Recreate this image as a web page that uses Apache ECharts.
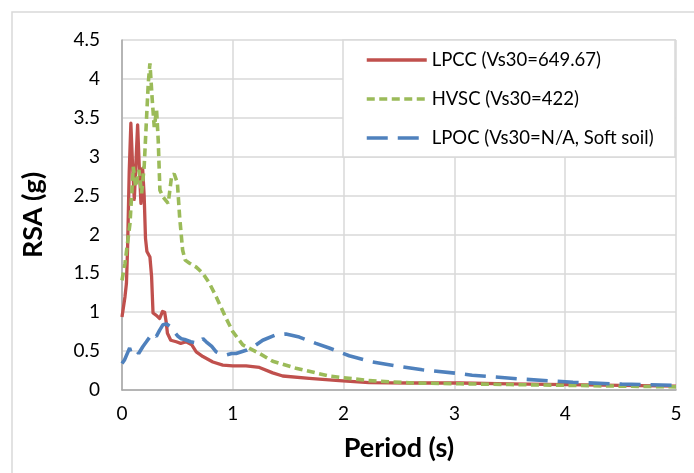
<!DOCTYPE html>
<html>
<head>
<meta charset="utf-8">
<script src="https://cdn.jsdelivr.net/npm/echarts@6/dist/echarts.min.js"></script>
<style>
  html, body { margin: 0; padding: 0; background: #fff; }
  #chart { width: 694px; height: 473px; }
</style>
</head>
<body>
<div id="chart"></div>
<script>
// ---- Data ----
const seriesNames = ['LPCC (Vs30=649.67)', 'HVSC (Vs30=422)', 'LPOC (Vs30=N/A, Soft soil)'];

const lpccPeriod = [0, 0.027, 0.04, 0.05, 0.065, 0.08, 0.095, 0.111, 0.125, 0.141,
  0.155, 0.171, 0.186, 0.2, 0.212, 0.225, 0.252, 0.267, 0.28, 0.31,
  0.34, 0.366, 0.385, 0.40, 0.41, 0.44, 0.49, 0.53, 0.58, 0.63,
  0.67, 0.73, 0.82, 0.91, 1.0, 1.12, 1.24, 1.36, 1.45, 1.69,
  1.96, 2.23, 2.6, 3.05, 3.5, 4.0, 4.5, 5.0];
const lpccRSA = [0.94, 1.2, 1.37, 1.8, 2.8, 3.43, 2.9, 2.45, 2.9, 3.41,
  2.9, 2.4, 2.85, 2.5, 1.95, 1.78, 1.71, 1.46, 0.99, 0.96,
  0.92, 1.01, 1.0, 0.86, 0.73, 0.64, 0.62, 0.6, 0.62, 0.58,
  0.49, 0.43, 0.36, 0.32, 0.31, 0.31, 0.29, 0.22, 0.18, 0.15,
  0.12, 0.094, 0.09, 0.09, 0.08, 0.07, 0.06, 0.05];

const hvscPeriod = [0, 0.027, 0.042, 0.072, 0.102, 0.123, 0.153, 0.177, 0.2, 0.222,
  0.237, 0.252, 0.273, 0.291, 0.312, 0.327, 0.342, 0.372, 0.417, 0.447,
  0.471, 0.50, 0.52, 0.547, 0.57, 0.61, 0.67, 0.73, 0.79, 0.85,
  0.93, 1.0, 1.09, 1.24, 1.36, 1.57, 1.87, 2.23, 2.62, 3.05,
  3.5, 4.0, 4.5, 5.0];
const hvscRSA = [1.41, 1.63, 1.8, 2.14, 2.87, 2.61, 2.83, 2.53, 2.87, 3.51,
  3.94, 4.2, 3.73, 3.38, 3.6, 3.21, 2.57, 2.48, 2.4, 2.74,
  2.78, 2.66, 2.23, 1.8, 1.67, 1.63, 1.58, 1.5, 1.37, 1.2,
  0.95, 0.75, 0.58, 0.47, 0.37, 0.28, 0.18, 0.12, 0.09, 0.08,
  0.07, 0.06, 0.05, 0.04];

const lpocPeriod = [0, 0.024, 0.054, 0.069, 0.084, 0.105, 0.129, 0.15, 0.189, 0.22,
  0.25, 0.28, 0.31, 0.34, 0.37, 0.40, 0.444, 0.47, 0.505, 0.535,
  0.565, 0.62, 0.69, 0.73, 0.76, 0.81, 0.85, 0.9, 0.94, 0.99,
  1.03, 1.12, 1.18, 1.27, 1.39, 1.48, 1.60, 1.75, 1.87, 2.05,
  2.26, 2.47, 2.71, 3.05, 3.16, 3.61, 4.07, 4.51, 5.0];
const lpocRSA = [0.34, 0.39, 0.49, 0.54, 0.47, 0.49, 0.51, 0.47, 0.56, 0.62,
  0.68, 0.73, 0.69, 0.77, 0.84, 0.85, 0.81, 0.75, 0.69, 0.66,
  0.65, 0.62, 0.6, 0.66, 0.62, 0.56, 0.49, 0.46, 0.45, 0.47,
  0.47, 0.51, 0.55, 0.64, 0.71, 0.72, 0.68, 0.6, 0.54, 0.44,
  0.36, 0.31, 0.26, 0.21, 0.19, 0.14, 0.1, 0.075, 0.06];

const xAxisTitle = 'Period (s)';
const yAxisTitle = 'RSA (g)';

// ---- Build chart ----
const zip = (xs, ys) => xs.map((x, i) => [x, ys[i]]);
const FONT = 'Lato, "Open Sans", sans-serif';

const chart = echarts.init(document.getElementById('chart'), null, { renderer: 'canvas' });

const axisLineStyle = { color: '#a6a6a6', width: 1.5 };
const gridLineStyle = { color: '#d9d9d9', width: 1.5 };

chart.setOption({
  animation: false,
  backgroundColor: '#ffffff',
  grid: { left: 122, right: 18, top: 40, bottom: 83, containLabel: false },
  graphic: [
    { type: 'rect', z: 0, silent: true,
      shape: { x: 12, y: 12, width: 700, height: 480 },
      style: { fill: 'none', stroke: '#d9d9d9', lineWidth: 1.5 } },
    { type: 'rect', z: 3, silent: true,
      shape: { x: 343, y: 40, width: 332, height: 117 },
      style: { fill: '#ffffff', stroke: '#d9d9d9', lineWidth: 1.5 } }
  ],
  legend: {
    orient: 'vertical',
    left: 365, top: 50,
    padding: 0,
    z: 5,
    itemWidth: 60, itemHeight: 14, itemGap: 19,
    itemStyle: { opacity: 0 },
    lineStyle: { width: 3.5 },
    textStyle: { fontFamily: FONT, fontSize: 18.5, color: '#000', lineHeight: 20 },
    data: seriesNames
  },
  xAxis: {
    type: 'value', min: 0, max: 5, interval: 1,
    axisLine: { show: true, lineStyle: axisLineStyle },
    axisTick: { show: false },
    splitLine: { show: true, lineStyle: gridLineStyle },
    axisLabel: { fontFamily: FONT, fontSize: 19, color: '#000', margin: 14 },
    name: xAxisTitle, nameLocation: 'middle', nameGap: 45,
    nameTextStyle: { fontFamily: FONT, fontSize: 27, fontWeight: 'bold', color: '#000' }
  },
  yAxis: {
    type: 'value', min: 0, max: 4.5, interval: 0.5,
    axisLine: { show: true, lineStyle: axisLineStyle },
    axisTick: { show: false },
    splitLine: { show: true, lineStyle: gridLineStyle },
    axisLabel: { fontFamily: FONT, fontSize: 19, color: '#000', margin: 22 },
    name: yAxisTitle, nameLocation: 'middle', nameGap: 75, nameRotate: 90,
    nameTextStyle: { fontFamily: FONT, fontSize: 27, fontWeight: 'bold', color: '#000' }
  },
  series: [
    { name: seriesNames[0], type: 'line', data: zip(lpccPeriod, lpccRSA),
      symbol: 'none', showSymbol: false, color: '#C0504D',
      lineStyle: { color: '#C0504D', width: 3.3, join: 'round' } },
    { name: seriesNames[1], type: 'line', data: zip(hvscPeriod, hvscRSA),
      symbol: 'none', showSymbol: false, color: '#9BBB59',
      lineStyle: { color: '#9BBB59', width: 3.6, type: [8, 4.5] } },
    { name: seriesNames[2], type: 'line', data: zip(lpocPeriod, lpocRSA),
      symbol: 'none', showSymbol: false, color: '#4F81BD',
      lineStyle: { color: '#4F81BD', width: 3.6, type: [21, 10] } }
  ]
});
</script>
</body>
</html>
